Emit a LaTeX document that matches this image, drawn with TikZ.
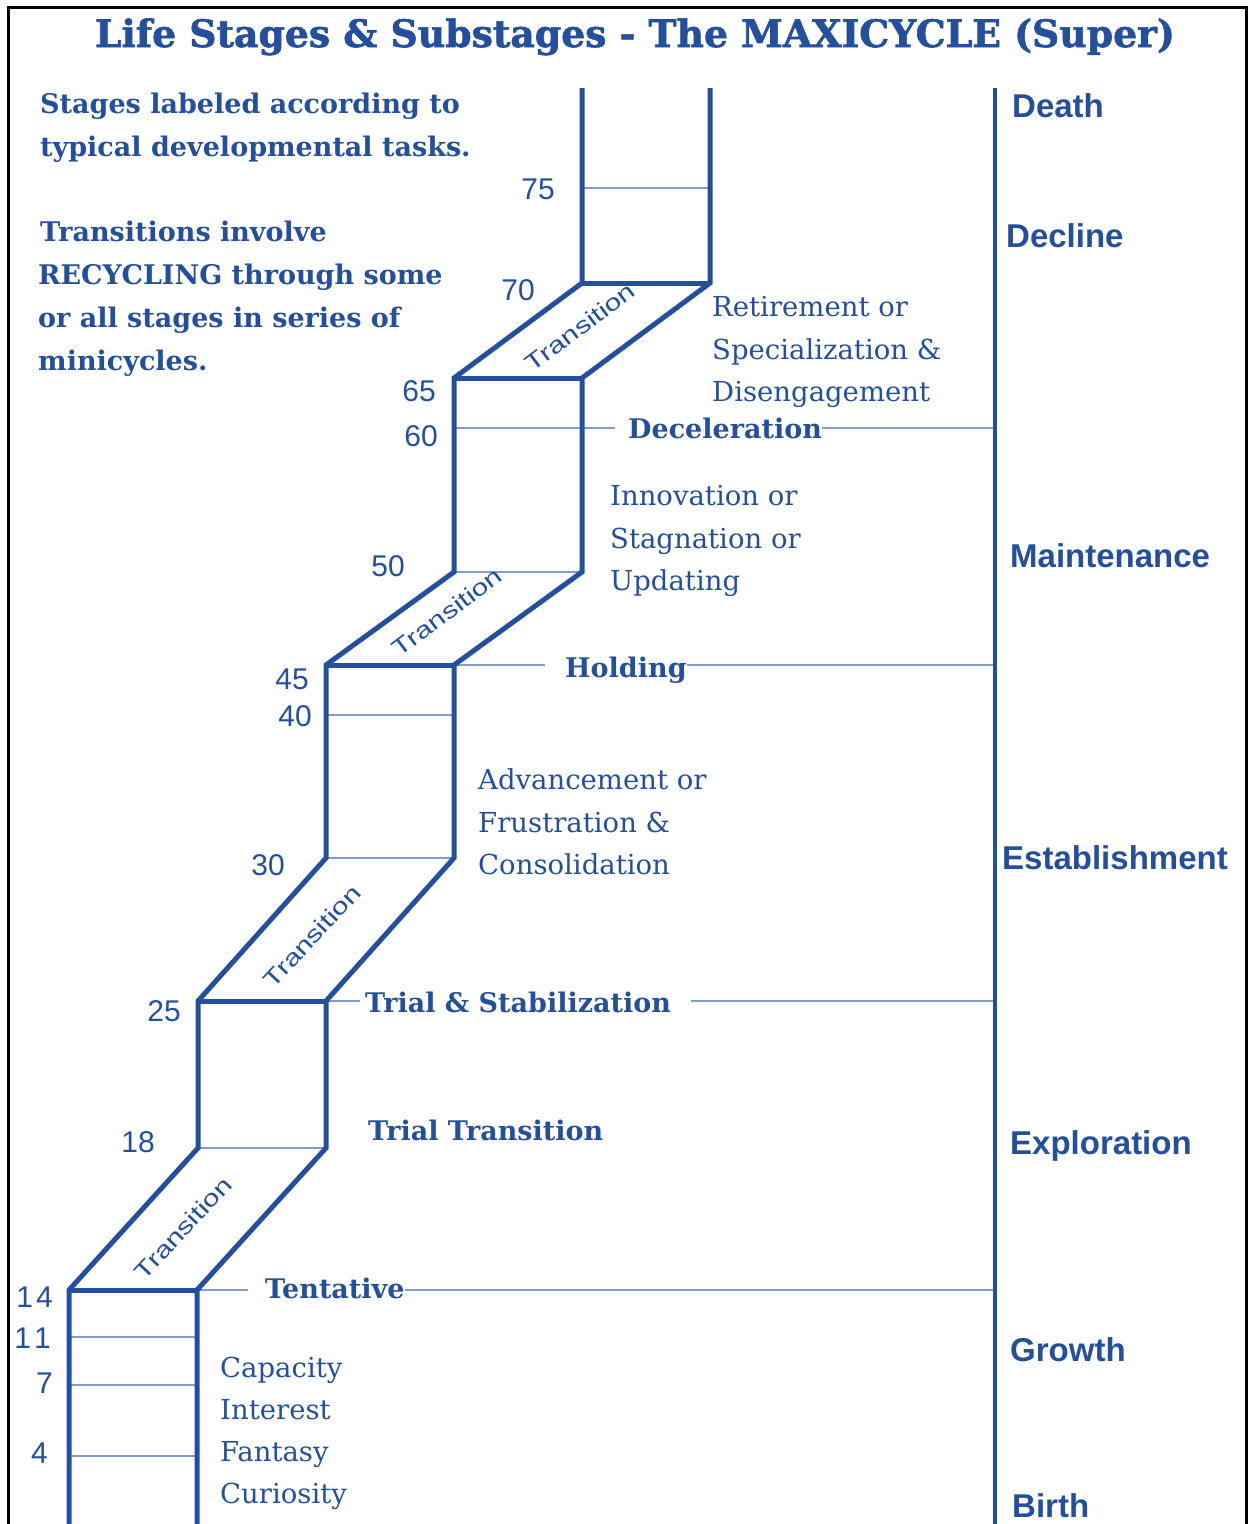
\documentclass[tikz,border=0pt]{standalone}
\usepackage{fontspec}
\setmainfont{DejaVu Serif}
\newfontfamily\sanslab{Liberation Sans}
\newfontfamily\heavyserif[FakeBold=1.6]{DejaVu Serif Bold}
\definecolor{stair}{RGB}{36,78,158}
\definecolor{rulecol}{RGB}{128,156,208}

\begin{document}
\begin{tikzpicture}[x=1pt,y=-1pt,
  wall/.style={draw=stair, line width=5pt, line join=miter},
  subline/.style={draw=rulecol, line width=2pt},
  axisline/.style={draw=stair, line width=4pt},
  frameline/.style={draw=black, line width=3pt, line join=miter},
  age/.style={text=stair, font=\sanslab\fontsize{30}{30}\selectfont, inner sep=0pt, anchor=base east},
  stage/.style={text=stair, font=\sanslab\bfseries\fontsize{33}{33}\selectfont, inner sep=0pt, anchor=base west},
  task/.style={text=stair, font=\fontsize{27.5}{27.5}\selectfont, inner sep=0pt, anchor=base west},
  substage/.style={text=stair, font=\bfseries\fontsize{27}{27}\selectfont, inner sep=0pt, anchor=base west},
  note/.style={text=stair, font=\bfseries\fontsize{27}{27}\selectfont, inner sep=0pt, anchor=base west},
  trans/.style={text=stair, font=\sanslab\fontsize{23}{23}\selectfont, inner sep=0pt},
]
\useasboundingbox (0,0) rectangle (1249,1524);

% outer frame (open at the bottom)
\coordinate (fbl) at (8,1524);
\coordinate (ftl) at (8,7);
\coordinate (ftr) at (1246,7);
\coordinate (fbr) at (1246,1524);
\draw[frameline] (fbl) -- (ftl) -- (ftr) -- (fbr);

% title
\node[text=stair, font=\heavyserif\fontsize{33}{33}\selectfont, inner sep=0pt, anchor=base] (title) at (635,47)
  {\resizebox{1080pt}{!}{Life Stages \& Substages - The MAXICYCLE (Super)}};

% rails of the staircase
\coordinate (L1) at (582,88);   \coordinate (R1) at (710,88);
\coordinate (L2) at (582,283);  \coordinate (R2) at (710,283);
\coordinate (L3) at (454,378);  \coordinate (R3) at (582,378);
\coordinate (L4) at (454,572);  \coordinate (R4) at (582,572);
\coordinate (L5) at (326,665);  \coordinate (R5) at (454,665);
\coordinate (L6) at (326,858);  \coordinate (R6) at (454,858);
\coordinate (L7) at (198,1001); \coordinate (R7) at (326,1001);
\coordinate (L8) at (198,1148); \coordinate (R8) at (326,1148);
\coordinate (L9) at (69,1290);  \coordinate (R9) at (197,1290);
\coordinate (L10) at (69,1524); \coordinate (R10) at (197,1524);

% age dividers inside the columns
\coordinate (a75l) at (582,188);  \coordinate (a75r) at (710,188);
\coordinate (a60l) at (454,428);
\coordinate (a40l) at (326,715);  \coordinate (a40r) at (454,715);
\coordinate (a11l) at (69,1337);  \coordinate (a11r) at (197,1337);
\coordinate (a7l) at (69,1385);   \coordinate (a7r) at (197,1385);
\coordinate (a4l) at (69,1456);   \coordinate (a4r) at (197,1456);

% right-hand axis and its junctions
\coordinate (axtop) at (995,88);
\coordinate (axbot) at (995,1524);
\coordinate (ax60) at (995,428);
\coordinate (ax45) at (995,665);
\coordinate (ax25) at (995,1001);
\coordinate (ax14) at (995,1290);

% thin dividers
\draw[subline] (a75l) -- (a75r);
\draw[subline] (L4) -- (R4);
\draw[subline] (a40l) -- (a40r);
\draw[subline] (L6) -- (R6);
\draw[subline] (L8) -- (R8);
\draw[subline] (a11l) -- (a11r);
\draw[subline] (a7l) -- (a7r);
\draw[subline] (a4l) -- (a4r);

% substage labels on the guide lines
\node[substage] (decel) at (628,438) {Deceleration};
\node[substage] (holding) at (565,677) {Holding};
\node[substage] (trialstab) at (365,1012) {Trial \& Stabilization};
\node[substage] (trialtrans) at (368,1140) {Trial Transition};
\node[substage] (tentative) at (265,1298) {Tentative};

\draw[subline, shorten >=13pt] (a60l) -- (decel.west |- a60l);
\draw[subline] (decel.east |- ax60) -- (ax60);
\draw[subline, shorten >=20pt] (R5) -- (holding.west |- R5);
\draw[subline] (holding.east |- ax45) -- (ax45);
\draw[subline, shorten >=5pt] (R7) -- (trialstab.west |- R7);
\draw[subline, shorten <=20pt] (trialstab.east |- ax25) -- (ax25);
\draw[subline, shorten >=17pt] (R9) -- (tentative.west |- R9);
\draw[subline] (tentative.east |- ax14) -- (ax14);

% thick walls
\draw[wall] (L1) -- (L2) -- (L3) -- (L4) -- (L5) -- (L6) -- (L7) -- (L8) -- (L9) -- (L10);
\draw[wall] (R1) -- (R2) -- (R3) -- (R4) -- (R5) -- (R6) -- (R7) -- (R8) -- (R9) -- (R10);
\draw[wall] (L2) -- (R2);
\draw[wall] (L3) -- (R3);
\draw[wall] (L5) -- (R5);
\draw[wall] (L7) -- (R7);
\draw[wall] (L9) -- (R9);
\draw[axisline] (axtop) -- (axbot);

% transition labels
\node[trans, rotate=37] (tr1) at (580,327) {\scalebox{1.3}[1]{Transition}};
\node[trans, rotate=37] (tr2) at (447,612) {\scalebox{1.3}[1]{Transition}};
\node[trans, rotate=47] (tr3) at (312,936) {\scalebox{1.3}[1]{Transition}};
\node[trans, rotate=47] (tr4) at (183,1228) {\scalebox{1.3}[1]{Transition}};

% ages
\node[age] (n75) at (555,199) {75};
\node[age] (n70) at (535,300) {70};
\node[age] (n65) at (436,401) {65};
\node[age] (n60) at (438,446) {60};
\node[age] (n50) at (405,576) {50};
\node[age] (n45) at (309,689) {45};
\node[age] (n40) at (312,726) {40};
\node[age] (n30) at (285,875) {30};
\node[age] (n25) at (181,1021) {25};
\node[age] (n18) at (155,1152) {18};
\node[age] (n14) at (53,1307) {1\kern3pt 4};
\node[age] (n11) at (51,1348) {1\kern3pt 1};
\node[age] (n7) at (53,1393) {7};
\node[age] (n4) at (48,1463) {4};

% life stages along the axis
\node[stage] (death) at (1012,117) {Death};
\node[stage] (decline) at (1006,247) {Decline};
\node[stage] (maint) at (1010,567) {Maintenance};
\node[stage] (estab) at (1002,869) {Establishment};
\node[stage] (explor) at (1010,1154) {Exploration};
\node[stage] (growth) at (1010,1361) {Growth};
\node[stage] (birth) at (1012,1517) {Birth};

% developmental tasks
\node[task] (t1a) at (712,316) {Retirement or};
\node[task] (t1b) at (712,359) {Specialization \&};
\node[task] (t1c) at (712,401) {Disengagement};
\node[task] (t2a) at (610,505) {Innovation or};
\node[task] (t2b) at (610,548) {Stagnation or};
\node[task] (t2c) at (610,590) {Updating};
\node[task] (t3a) at (478,789) {Advancement or};
\node[task] (t3b) at (478,832) {Frustration \&};
\node[task] (t3c) at (478,874) {Consolidation};
\node[task] (t4a) at (220,1377) {Capacity};
\node[task] (t4b) at (220,1419) {Interest};
\node[task] (t4c) at (220,1461) {Fantasy};
\node[task] (t4d) at (220,1503) {Curiosity};

% explanatory notes
\node[note] (nt1) at (40,113) {Stages labeled according to};
\node[note] (nt2) at (40,156) {typical developmental tasks.};
\node[note] (nt3) at (40,241) {Transitions involve};
\node[note] (nt4) at (38,284) {RECYCLING through some};
\node[note] (nt5) at (38,327) {or all stages in series of};
\node[note] (nt6) at (38,370) {minicycles.};
\end{tikzpicture}
\end{document}
